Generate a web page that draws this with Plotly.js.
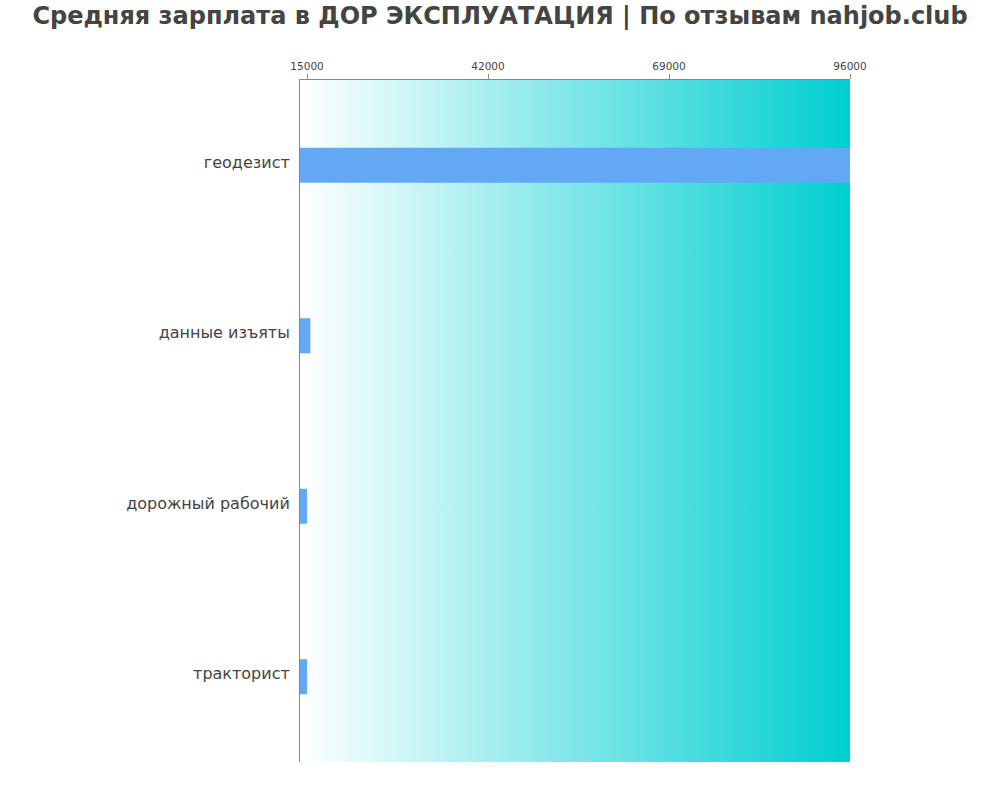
<!DOCTYPE html>
<html>
<head>
<meta charset="utf-8">
<script src="https://cdn.plot.ly/plotly-3.0.1.min.js"></script>
<style>
  html, body { margin: 0; padding: 0; background: #fff; }
  #chart { width: 1000px; height: 800px; }
</style>
</head>
<body>
<div id="chart"></div>
<script>
// Данные графика
const professions = ['геодезист', 'данные изъяты', 'дорожный рабочий', 'тракторист'];
const salaries    = [96000, 15500, 15000, 15000];
const tickValues  = [15000, 42000, 69000, 96000];
const tickLabels  = ['15000', '42000', '69000', '96000'];

const BAR_COLOR  = '#62a8f4';
const TEXT_COLOR = '#444444';

// Фон — горизонтальный градиент белый -> бирюзовый
const gradientSvg =
  '<svg xmlns="http://www.w3.org/2000/svg" width="100" height="100" preserveAspectRatio="none">' +
  '<defs><linearGradient id="g" x1="0" y1="0" x2="1" y2="0">' +
  '<stop offset="0" stop-color="#ffffff"/><stop offset="1" stop-color="#00ced1"/>' +
  '</linearGradient></defs><rect width="100" height="100" fill="url(#g)"/></svg>';

const trace = {
  type: 'bar',
  orientation: 'h',
  y: professions,
  x: salaries,
  marker: { color: BAR_COLOR },
  hoverinfo: 'x+y',
};

const layout = {
  width: 1000,
  height: 800,
  margin: { l: 300, r: 150, t: 80, b: 38 },
  paper_bgcolor: '#ffffff',
  plot_bgcolor: 'rgba(0,0,0,0)',
  font: { family: 'DejaVu Sans', color: TEXT_COLOR },
  title: {
    text: '<b>Средняя зарплата в ДОР ЭКСПЛУАТАЦИЯ | По отзывам nahjob.club</b>',
    font: { family: 'DejaVu Sans', size: 24, color: TEXT_COLOR },
    x: 0.5, xanchor: 'center',
    y: 0.981, yanchor: 'middle',
  },
  bargap: 0.795,
  showlegend: false,
  xaxis: {
    side: 'top',
    range: [13950, 96000],
    tickvals: tickValues,
    ticktext: tickLabels,
    ticks: 'outside',
    ticklen: 5,
    tickcolor: '#888',
    tickfont: { size: 10.5, color: TEXT_COLOR },
    showgrid: false,
    zeroline: false,
    showline: true,
    linecolor: '#888',
    linewidth: 1,
    fixedrange: true,
  },
  yaxis: {
    autorange: 'reversed',
    showgrid: false,
    zeroline: false,
    showline: true,
    linecolor: '#888',
    linewidth: 1,
    ticks: 'outside',
    ticklen: 6,
    tickcolor: 'rgba(0,0,0,0)',
    tickfont: { size: 16, color: TEXT_COLOR },
    ticklabelshift: 3,
    fixedrange: true,
  },
  images: [{
    source: 'data:image/svg+xml;charset=utf-8,' + encodeURIComponent(gradientSvg),
    xref: 'paper', yref: 'paper',
    x: 0, y: 1, sizex: 1, sizey: 1,
    xanchor: 'left', yanchor: 'top',
    sizing: 'stretch',
    layer: 'below',
  }],
};

Plotly.newPlot('chart', [trace], layout, { displayModeBar: false, staticPlot: true });
</script>
</body>
</html>
